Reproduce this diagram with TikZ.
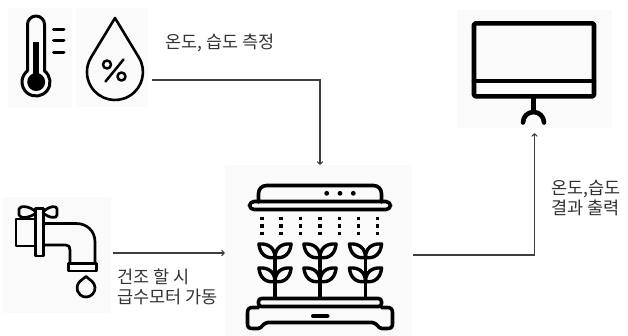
\documentclass[tikz,border=0pt]{standalone}
\usepackage{fontspec}
\setmainfont{Noto Sans CJK KR}
\usetikzlibrary{arrows.meta}

\definecolor{wire}{HTML}{3E3E3E}
\definecolor{panel}{HTML}{FAFAFA}
\definecolor{ink}{HTML}{333333}

\tikzset{
  panelbox/.style={fill=panel, draw=none, inner sep=0pt, rectangle},
  icon/.style={draw=black, line width=3pt, line cap=round, line join=round},
  conn/.style={draw=wire, line width=1.1pt, -{To[length=3.5pt,width=6pt]}},
  lbl/.style={text=ink, inner sep=0pt, align=left, font=\fontsize{17.5}{20}\selectfont},
}

% one leaf: base point, direction on the page, length
\newcommand{\drawleaf}[3]{%
  \draw[icon, line width=3.4pt, shift={#1}, rotate=#2]
    (0,0) .. controls (6,7) and (14,7) .. (#3,0)
          .. controls (14,-7) and (6,-7) .. (0,0);}

\begin{document}
\begin{tikzpicture}[x=1pt, y=-1pt]
\useasboundingbox (0,0) rectangle (628,335);
\fill[white] (0,0) rectangle (628,335);

% ---------- panels behind the icons ----------
\node[panelbox, minimum width=64pt, minimum height=100pt] (therm) at (40,58) {};
\node[panelbox, minimum width=72pt, minimum height=99pt]  (hum)   at (112,57.5) {};
\node[panelbox, minimum width=108pt, minimum height=116pt] (tap)  at (57,255) {};
\node[panelbox, minimum width=187pt, minimum height=172pt] (farm) at (318.5,251) {};
\node[panelbox, minimum width=155pt, minimum height=118pt] (mon)  at (534.5,69) {};

% ---------- thermometer ----------
\draw[icon] (27.5,70.9) -- (27.5,24.5) arc[start angle=180, end angle=360, radius=8.5]
  -- (44.5,70.9) arc[start angle=-52.6, end angle=232.6, radius=14] -- cycle;
\fill (33.2,41.5) rectangle (39.2,80);
\fill (36.2,82) circle[radius=9];
\draw[icon] (53.5,29) -- (64,29);
\draw[icon] (53.5,40) -- (64,40);
\draw[icon] (53.5,52) -- (64,52);

% ---------- humidity drop ----------
\draw[icon, line width=2.6pt] (115,18) -- (138.9,57.5)
  arc[start angle=-31.2, end angle=211.2, radius=28] -- cycle;
\draw[icon, line width=2.5pt] (123.5,59.5) -- (105.5,81.5);
\draw[icon, line width=2.5pt] (107,64.5) circle[radius=4];
\draw[icon, line width=2.5pt] (121.5,76.5) circle[radius=4];

% ---------- faucet ----------
\begin{scope}[icon, line width=2.7pt]
  % handle
  \draw (36,212) .. controls (30,206) and (20,205) .. (19,209)
        -- (19,215) .. controls (20,219) and (30,218) .. (36,213);
  \draw (43,212) .. controls (49,206) and (57,205) .. (57,209)
        -- (57,215) .. controls (57,219) and (49,218) .. (43,213);
  % collar
  \draw (35.5,208.5) rectangle (43.5,256);
  % rear stub
  \draw (35.5,219) -- (16,219) -- (16,246) -- (35.5,246);
  % pipe with bend
  \draw (43.5,223.5) -- (76,223.5) .. controls (87,223.5) and (95,231) .. (95,242)
        -- (95,263.5);
  \draw (43.5,245) -- (66,245) .. controls (69,245) and (70,247) .. (70,250) -- (70,263.5);
  % nozzle
  \draw (68.5,263.5) rectangle (96.5,271);
  % water drop
  \draw (86,276.5) -- (91.95,281.25)
    arc[start angle=-48.6, end angle=228.6, radius=9] -- cycle;
\end{scope}

% ---------- vertical farm ----------
\begin{scope}[icon, line width=3.6pt]
  % lamp cover
  \draw[rounded corners=8pt] (258.5,202) -- (258.5,185.5) -- (381.5,185.5) -- (381.5,202);
  \draw[rounded corners=4.5pt] (249.5,201.5) rectangle (390.5,209.5);
  % spray heads
  \foreach \px in {262,281,300.5,320,339.5,358.5,377.5}
    \draw[line cap=butt, line width=3.3pt, dash pattern=on 3.5pt off 4pt] (\px,216.5) -- (\px,235);
  % tray and base
  \draw[rounded corners=3pt] (258.5,298.5) rectangle (381.5,306.5);
  \draw (258.5,307.5) -- (253,307.5) .. controls (249,307.5) and (247.5,309) .. (247.5,313)
        -- (247.5,323.5) .. controls (247.5,327.5) and (249,328.5) .. (253,328.5)
        -- (258,328.5) .. controls (262,328.5) and (263,322.5) .. (268,322.5)
        -- (372,322.5) .. controls (377,322.5) and (378,328.5) .. (382,328.5)
        -- (387,328.5) .. controls (391,328.5) and (392.5,327.5) .. (392.5,323.5)
        -- (392.5,313) .. controls (392.5,309) and (391,307.5) .. (387,307.5) -- (381.5,307.5);
  \draw[line width=4pt] (313,316) -- (327.5,316);
  % stems
  \foreach \sx in {275,320,365.5}
    \draw (\sx,258) -- (\sx,297);
\end{scope}
\fill (326.7,193.3) circle[radius=2.4];
\fill (340,193.3) circle[radius=2.4];
\fill (353.3,193.3) circle[radius=2.4];
% leaves
\foreach \sx in {275,320,365.5}{
  \drawleaf{(\sx,257.5)}{140}{21}
  \drawleaf{(\sx,257.5)}{40}{21}
  \drawleaf{(\sx,281.5)}{140}{21}
  \drawleaf{(\sx,281.5)}{40}{21}
}

% ---------- monitor ----------
\begin{scope}[icon, line width=4.6pt]
  \draw[rounded corners=1.5pt] (474,23.3) rectangle (594,96.3);
  \draw (474,81) -- (594,81);
  \draw (533.5,96.3) -- (533.5,112);
  \draw (523,122.5) arc[start angle=180, end angle=360, radius=10.5];
\end{scope}

% ---------- connectors ----------
\coordinate (humout) at ([xshift=4pt,yshift=-22.5pt]hum.east);
\draw[conn] (humout) -| ([xshift=1.5pt]farm.north);

\coordinate (tapout) at ([xshift=2pt,yshift=2pt]tap.east);
\draw[conn] (tapout) -- (tapout -| farm.west);

\coordinate (farmout) at ([xshift=1pt,yshift=-4pt]farm.east);
\draw[conn] (farmout) -| ([yshift=-5pt]mon.south);

% ---------- labels ----------
\node[lbl, anchor=west] (lmeas) at (165,43) {온도, 습도 측정};
\node[lbl, anchor=north west] (ldry) at (117,269) {건조 할 시\\급수모터 가동};
\node[lbl, anchor=north west] (lout) at (551,180) {온도,습도\\결과 출력};
\end{tikzpicture}
\end{document}
